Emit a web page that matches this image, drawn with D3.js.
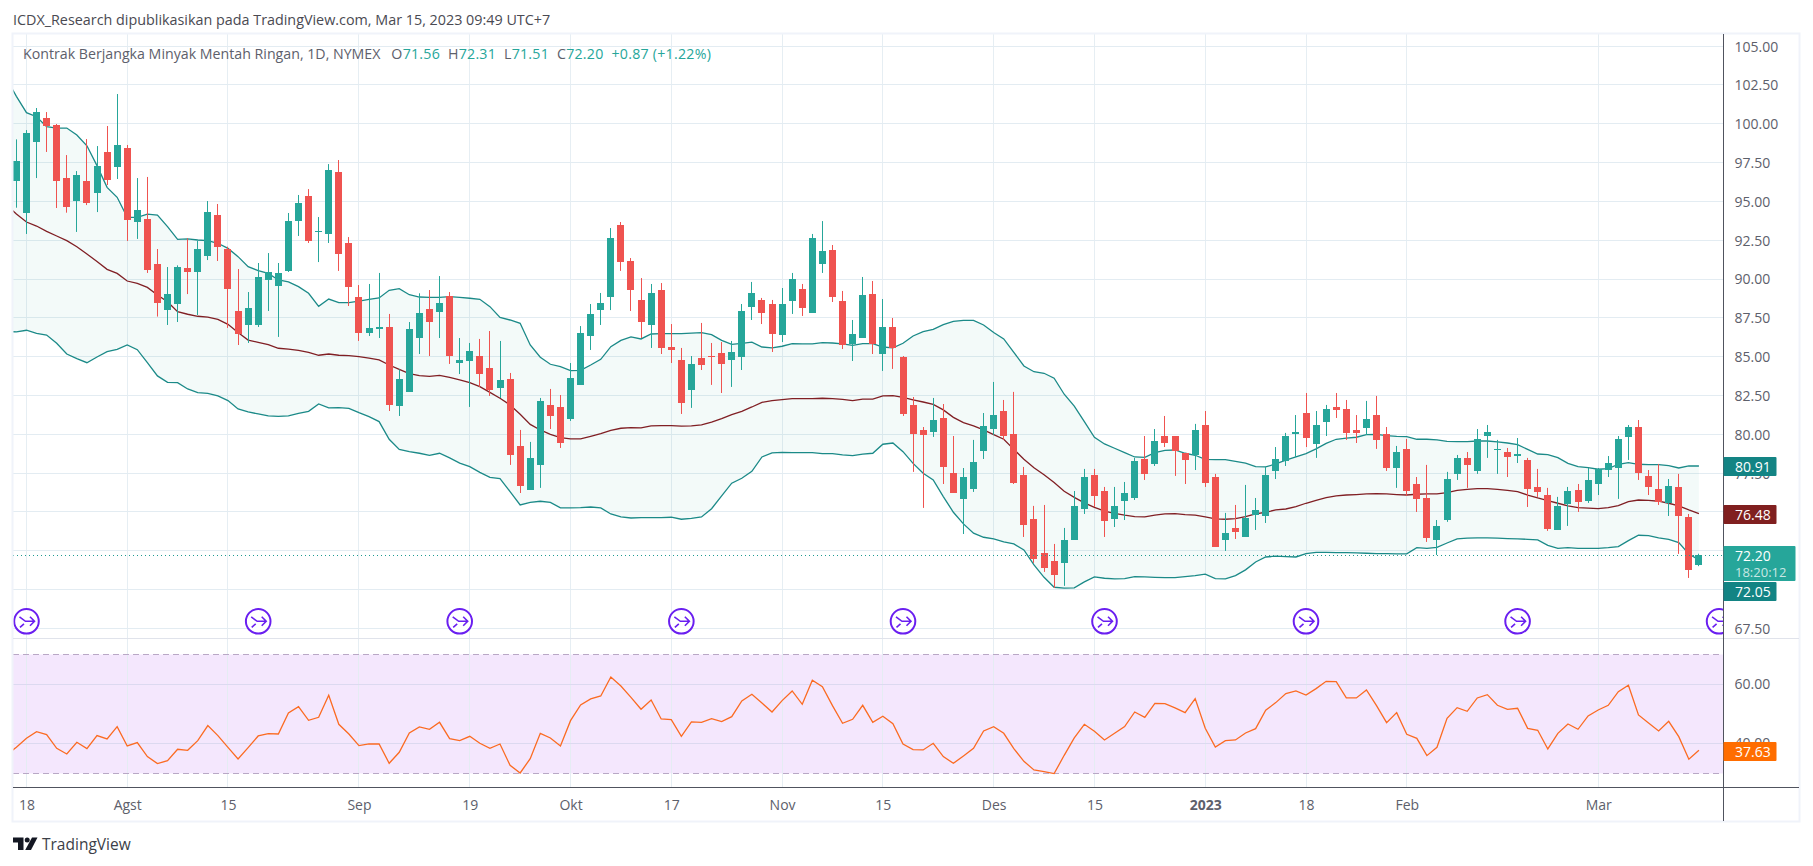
<!DOCTYPE html>
<html>
<head>
<meta charset="utf-8">
<script src="https://cdn.jsdelivr.net/npm/d3@7"></script>
<style>
	html, body { margin: 0; padding: 0; background: #fff; }
	svg { display: block; }
	text { font-family: "Open Sans", "Noto Sans", sans-serif; }
</style>
</head>
<body>
<div id="chart"></div>
<script>
// candles, one per trading day (first bar is Jul 15 2022)
const opens = [96.31,94.27,98.82,100.36,99.91,96.50,95.02,96.31,95.54,98.18,
	97.21,98.43,93.67,93.86,90.97,88.00,88.39,90.71,90.45,91.48,
	94.12,91.93,87.94,87.04,87.04,89.94,89.55,90.52,93.73,95.34,
	93.05,92.90,96.89,92.32,88.84,86.52,86.78,86.91,81.82,82.73,
	86.20,88.07,87.88,88.91,84.59,84.72,85.04,84.27,82.98,83.56,
	79.25,76.42,78.03,81.89,81.76,80.99,83.18,86.33,88.00,88.84,
	93.48,91.16,88.65,87.04,89.29,85.62,84.79,82.85,84.91,85.04,
	85.24,84.79,84.98,88.20,88.65,88.39,86.39,88.58,89.36,87.81,
	90.97,91.87,88.58,85.82,86.20,89.03,85.17,86.91,84.98,81.89,
	80.28,80.15,81.05,77.51,75.84,76.48,78.93,80.34,81.50,80.02,
	77.38,74.55,72.36,71.85,71.72,73.20,75.19,77.38,76.35,74.55,
	75.71,75.90,78.41,78.09,79.89,79.89,78.80,78.67,80.60,77.25,
	73.20,73.97,73.39,74.81,74.74,77.64,78.28,80.02,81.37,79.38,
	80.79,81.76,81.63,80.28,80.41,81.24,80.02,77.83,79.06,76.80,
	75.90,73.20,74.48,77.45,78.48,77.64,79.89,79.01,78.86,78.60,
	78.35,76.61,76.09,73.84,75.52,76.42,75.71,76.80,77.70,77.83,
	79.83,80.47,77.32,76.48,75.58,76.61,74.68,71.56];

const closes = [97.60,99.40,100.75,99.85,96.31,94.63,96.70,94.89,97.27,96.37,
	98.63,93.80,94.44,90.58,88.48,89.03,90.77,90.45,91.93,94.31,
	92.06,89.36,86.46,88.13,90.13,90.45,90.39,93.73,94.89,92.45,
	93.09,97.02,91.61,89.49,86.52,86.85,86.91,81.89,83.56,86.78,
	87.81,87.23,88.45,85.04,84.79,85.36,83.88,82.85,83.50,78.67,
	76.67,78.48,82.15,81.18,79.44,83.63,86.52,87.75,88.45,92.64,
	91.09,89.29,87.23,89.10,85.56,85.43,82.02,84.53,84.46,84.98,
	84.53,85.30,87.94,89.10,87.81,86.46,88.39,90.00,88.13,92.64,
	91.80,88.84,85.75,86.46,88.97,85.82,86.91,85.56,81.31,80.02,
	79.96,80.92,77.90,76.22,77.25,78.22,80.54,81.24,79.89,76.87,
	74.16,71.97,71.39,70.94,73.20,75.39,77.25,76.03,74.42,75.39,
	76.22,78.28,77.45,79.57,79.44,78.93,78.35,80.28,76.87,72.75,
	73.65,73.71,74.61,75.13,77.38,78.41,79.89,80.15,79.76,80.60,
	81.63,81.57,80.09,80.09,80.99,79.64,77.83,78.86,76.35,75.84,
	73.33,74.10,77.12,78.48,78.03,79.70,80.15,79.06,78.54,78.73,
	76.48,76.29,73.91,75.39,76.35,75.64,77.06,77.77,78.15,79.70,
	80.47,77.51,76.61,75.64,76.67,74.74,71.27,72.20];

const highs = [98.99,99.59,101.01,100.75,99.98,97.98,96.95,99.01,98.56,99.85,
	101.91,98.63,96.50,96.57,91.93,90.77,90.88,92.62,92.45,95.02,
	94.83,92.08,90.64,89.16,91.03,91.67,91.03,94.25,95.41,95.79,
	93.99,97.40,97.66,92.70,89.61,89.68,90.39,87.75,84.18,87.23,
	89.08,89.29,90.19,89.16,86.20,85.88,86.14,86.65,86.01,83.95,
	80.28,79.51,82.34,82.92,82.53,84.59,86.97,88.39,89.10,93.28,
	93.67,91.35,90.06,89.68,89.74,87.10,85.56,85.04,87.17,85.88,
	85.94,86.01,88.39,89.81,88.78,88.65,89.42,90.39,89.68,92.90,
	93.73,92.19,89.23,87.36,90.13,89.87,88.71,87.49,85.04,82.40,
	80.47,82.34,81.95,79.89,77.83,79.64,81.37,83.37,82.21,82.73,
	77.90,75.39,75.45,72.94,73.97,76.35,77.77,77.77,76.61,76.61,
	76.93,78.48,79.89,80.34,81.18,79.89,78.80,80.67,81.50,77.45,
	74.94,75.45,76.74,75.90,77.90,79.18,80.09,81.24,82.66,81.50,
	81.89,82.66,82.21,81.24,82.15,82.47,80.47,79.25,79.70,77.25,
	78.03,74.48,77.58,78.67,78.86,80.34,80.60,79.64,79.12,79.76,
	78.48,77.77,76.55,75.97,76.61,76.80,77.83,77.83,78.60,79.89,
	80.60,80.92,77.70,78.09,77.12,77.45,74.87,72.31];

const lows = [94.59,92.90,96.50,98.18,94.57,94.27,93.03,94.76,94.31,96.05,
	96.44,92.45,92.58,90.39,87.58,87.04,87.23,89.03,87.68,91.22,
	91.16,86.85,85.75,85.88,86.91,87.94,86.27,90.45,92.77,92.32,
	91.09,92.32,90.52,88.26,86.01,86.33,86.20,81.50,81.18,82.73,
	85.17,85.04,86.20,84.53,83.88,81.76,83.05,82.47,82.34,78.03,
	76.22,76.42,76.55,80.34,79.12,80.86,83.18,85.43,87.04,88.00,
	90.52,87.94,86.20,85.56,85.17,84.59,81.31,81.70,84.14,83.18,
	82.66,83.05,84.14,87.36,87.10,85.30,85.94,87.75,87.62,87.81,
	90.39,88.52,85.49,84.72,86.20,85.17,84.08,84.21,81.18,77.58,
	75.26,79.83,76.80,76.22,73.58,76.29,78.41,79.96,79.64,76.80,
	73.39,71.72,71.14,70.11,70.24,73.20,74.87,75.32,73.39,74.03,
	74.48,75.77,77.06,77.96,79.18,77.32,76.80,77.70,76.61,72.75,
	72.49,73.26,73.39,73.84,74.29,77.12,77.96,78.54,79.18,78.48,
	79.89,81.05,79.64,79.44,79.96,79.06,77.64,76.55,76.03,75.00,
	73.07,72.23,74.36,77.06,76.55,77.45,78.48,77.45,77.25,78.15,
	75.32,75.97,73.78,73.84,74.10,75.00,75.58,76.09,77.25,75.84,
	78.35,77.06,76.09,75.45,74.74,72.30,70.75,71.51];

// bollinger bands and rsi start one bar earlier, that bar is off the left edge
const bandUpper = [102.92,101.76,100.71,100.45,99.81,99.72,99.72,99.27,98.58,97.30,95.90,
	95.26,93.97,93.97,94.18,94.12,93.37,92.55,92.58,92.51,92.47,
	92.30,91.97,91.44,90.79,90.54,90.36,89.94,89.81,89.51,89.08,
	88.24,88.71,88.48,88.48,88.58,88.69,88.78,89.27,89.38,88.99,
	88.84,88.82,88.82,88.86,88.82,88.76,88.69,88.22,87.53,87.36,
	87.15,85.75,84.96,84.51,84.36,84.10,84.12,84.46,84.83,85.64,
	86.05,86.27,86.14,86.46,86.48,86.48,86.48,86.52,86.55,86.42,
	86.05,85.79,85.86,85.94,85.62,85.56,85.67,85.84,85.82,85.82,
	85.90,85.88,85.82,85.73,85.84,85.84,85.62,85.56,85.86,86.33,
	86.61,86.76,87.06,87.27,87.34,87.34,87.04,86.55,86.14,85.28,
	84.40,84.03,83.93,83.61,82.58,81.82,80.82,79.81,79.38,79.10,
	78.82,78.54,78.52,78.82,78.97,78.99,78.78,78.65,78.39,78.37,
	78.37,78.26,78.15,77.92,77.90,78.09,78.33,78.54,78.76,79.06,
	79.42,79.68,79.76,79.81,79.98,80.00,79.91,79.87,79.85,79.68,
	79.68,79.64,79.55,79.53,79.53,79.57,79.57,79.51,79.44,79.33,
	79.03,78.73,78.69,78.50,78.13,77.92,77.85,77.75,77.79,78.07,
	78.18,78.07,78.05,78.05,77.98,77.83,77.96,77.96];

const bandMiddle = [94.79,94.18,93.67,93.41,93.07,92.77,92.47,92.08,91.61,91.12,90.62,
	90.36,89.87,89.72,89.46,88.97,88.54,87.90,87.73,87.60,87.55,
	87.40,87.08,86.55,86.07,85.92,85.77,85.54,85.49,85.41,85.28,
	85.09,85.17,85.09,85.06,85.00,84.91,84.79,84.46,84.18,83.91,
	83.78,83.73,83.80,83.67,83.50,83.33,83.07,82.70,82.32,81.89,
	81.29,80.64,80.28,80.00,79.79,79.70,79.70,79.87,80.04,80.26,
	80.39,80.43,80.41,80.54,80.56,80.56,80.52,80.54,80.60,80.79,
	81.01,81.27,81.48,81.76,82.06,82.17,82.23,82.30,82.30,82.30,
	82.32,82.30,82.25,82.17,82.27,82.27,82.47,82.49,82.38,82.21,
	82.08,81.93,81.57,81.09,80.75,80.54,80.28,79.98,79.68,79.03,
	78.39,77.85,77.40,76.89,76.33,75.94,75.58,75.30,75.06,74.91,
	74.79,74.70,74.68,74.79,74.87,74.89,74.83,74.79,74.68,74.55,
	74.53,74.57,74.70,74.87,74.98,75.13,75.19,75.34,75.56,75.75,
	75.92,76.03,76.09,76.12,76.16,76.18,76.16,76.12,76.09,76.14,
	76.16,76.16,76.24,76.39,76.46,76.50,76.50,76.46,76.39,76.31,
	76.09,75.90,75.73,75.56,75.39,75.28,75.24,75.21,75.28,75.41,
	75.67,75.77,75.75,75.69,75.56,75.39,75.13,74.89];

const bandLower = [86.63,86.59,86.70,86.50,86.39,85.86,85.17,84.87,84.61,84.98,85.32,
	85.47,85.75,85.45,84.61,83.76,83.35,83.33,82.92,82.68,82.64,
	82.47,82.17,81.63,81.44,81.31,81.18,81.16,81.18,81.35,81.48,
	81.95,81.70,81.72,81.67,81.39,81.14,80.82,79.68,79.03,78.88,
	78.78,78.65,78.78,78.48,78.15,77.92,77.55,77.23,77.15,76.31,
	75.45,75.62,75.69,75.62,75.26,75.26,75.28,75.32,75.26,74.87,
	74.68,74.61,74.64,74.64,74.64,74.66,74.53,74.59,74.68,75.21,
	76.03,76.85,77.17,77.62,78.54,78.80,78.84,78.82,78.82,78.82,
	78.76,78.76,78.67,78.63,78.73,78.78,79.36,79.44,78.88,78.13,
	77.49,77.06,75.99,74.98,74.23,73.63,73.37,73.26,73.07,72.94,
	72.55,71.59,70.79,70.15,70.09,70.11,70.50,70.82,70.73,70.69,
	70.71,70.84,70.82,70.79,70.77,70.77,70.84,70.90,70.99,70.71,
	70.69,70.90,71.27,71.78,72.10,72.15,72.12,72.10,72.32,72.40,
	72.40,72.38,72.38,72.36,72.34,72.32,72.32,72.30,72.30,72.70,
	72.66,72.72,73.00,73.26,73.31,73.33,73.33,73.31,73.28,73.26,
	73.24,73.20,72.85,72.66,72.70,72.66,72.66,72.66,72.70,72.77,
	73.15,73.50,73.48,73.33,73.24,73.03,72.30,71.91];

const rsiValues = [36.05,38.64,41.69,43.95,42.94,38.31,36.38,40.34,38.19,42.60,41.47,
	45.65,39.10,40.23,35.48,33.11,34.12,37.97,37.63,40.90,45.99,
	42.60,38.64,34.69,38.53,42.49,43.28,43.16,50.28,52.43,47.80,
	48.81,56.27,46.44,43.16,39.21,39.77,39.77,33.22,36.95,43.50,
	45.54,44.75,47.12,41.58,40.90,42.37,40.00,38.31,39.77,32.54,
	29.94,34.80,43.39,41.81,39.10,47.68,52.99,55.03,56.05,62.49,
	59.44,55.59,51.53,54.69,48.25,48.02,42.37,47.23,47.12,48.36,
	47.34,49.04,54.35,56.61,53.67,50.62,54.46,57.74,53.22,61.36,
	59.21,52.77,46.78,48.14,52.88,47.12,49.15,46.67,39.77,37.85,
	37.74,40.00,35.48,33.22,35.71,38.31,44.18,45.65,43.39,38.19,
	33.90,30.96,30.40,29.72,35.93,41.81,46.44,44.07,41.13,43.39,
	45.65,50.62,48.81,53.56,53.45,51.98,50.40,55.14,45.08,38.76,
	40.90,41.13,43.50,44.97,51.19,53.79,56.84,57.74,56.38,58.53,
	61.02,60.90,55.37,55.37,58.08,52.77,47.01,50.40,43.05,41.69,
	35.82,38.64,48.47,52.09,50.85,55.37,56.50,52.88,51.53,51.86,
	45.08,44.41,38.08,43.39,46.55,44.75,49.27,51.30,52.88,57.51,
	59.66,49.60,46.89,44.18,47.46,42.26,34.58,37.63];

// axis labels
const priceTicks = [105,102.5,100,97.5,95,92.5,90,87.5,85,82.5,80,77.5,75,72.5,70,67.5];
const rsiTicks = [60,40];
const rsiBounds = [70.2,29.9];
const timeBars = [1,11,21,34,45,55,65,76,86,97,107,118,128,138,157];
const timeLabels = ["18","Agst","15","Sep","19","Okt","17","Nov","15","Des","15","2023","18","Feb","Mar"];
const eventBars = [1,24,44,66,88,108,128,149,169];

const lastPrice = 72.20;
const titleText = "ICDX_Research dipublikasikan pada TradingView.com, Mar 15, 2023 09:49 UTC+7";
const gap = "\u00A0\u00A0";
const legendParts = [
	["Kontrak Berjangka Minyak Mentah Ringan, 1D, NYMEX", "#5d606b"],
	[gap + "O", "#5d606b"], ["71.56", "#26a69a"],
	[gap + "H", "#5d606b"], ["72.31", "#26a69a"],
	[gap + "L", "#5d606b"], ["71.51", "#26a69a"],
	[gap + "C", "#5d606b"], ["72.20", "#26a69a"],
	[gap + "+0.87 (+1.22%)", "#26a69a"]
];

const width = 1813, height = 866;
const frame = {left: 13, right: 1799, top: 34, bottom: 821};
const axisX = 1723.5, paneSplit = 638.5, timeAxisY = 787.5;

const x = d3.scaleLinear().domain([0, 167]).range([16.4, 16.4 + 167 * 10.075]);
const y = d3.scaleLinear().domain([80, 100]).range([434.3, 123.7]);
const yRsi = d3.scaleLinear().domain([60, 40]).range([684.3, 743.3]);

const svg = d3.select("#chart").append("svg")
	.attr("width", width)
	.attr("height", height)
	.attr("viewBox", [0, 0, width, height]);

const defs = svg.append("defs");
defs.append("clipPath").attr("id", "price-clip").append("rect")
	.attr("x", frame.left).attr("y", frame.top)
	.attr("width", axisX - frame.left).attr("height", paneSplit - frame.top);
defs.append("clipPath").attr("id", "rsi-clip").append("rect")
	.attr("x", frame.left).attr("y", paneSplit)
	.attr("width", axisX - frame.left).attr("height", timeAxisY - paneSplit);

const crisp = v => Math.floor(v) + 0.5;

svg.append("text")
	.attr("x", 13).attr("y", 25)
	.attr("font-size", 14.35).attr("fill", "#4a4a52")
	.text(titleText);

// rsi background sits under the grid
svg.append("rect")
	.attr("x", frame.left).attr("width", axisX - frame.left)
	.attr("y", crisp(yRsi(rsiBounds[0]))).attr("height", crisp(yRsi(rsiBounds[1])) - crisp(yRsi(rsiBounds[0])))
	.attr("fill", "#f4e7fd");

// grid
const gridColor = "#e3ecf2";
svg.append("g").selectAll("line")
	.data(timeBars)
	.join("line")
	.attr("x1", d => crisp(x(d))).attr("x2", d => crisp(x(d)))
	.attr("y1", frame.top).attr("y2", timeAxisY)
	.attr("stroke", gridColor)
	.attr("stroke-opacity", 0.9);

svg.append("g").selectAll("line")
	.data(priceTicks)
	.join("line")
	.attr("x1", frame.left).attr("x2", axisX)
	.attr("y1", d => crisp(y(d))).attr("y2", d => crisp(y(d)))
	.attr("stroke", gridColor);

svg.append("g").selectAll("line")
	.data(rsiTicks)
	.join("line")
	.attr("x1", frame.left).attr("x2", axisX)
	.attr("y1", d => crisp(yRsi(d))).attr("y2", d => crisp(yRsi(d)))
	.attr("stroke", "#dcd9f0");

svg.append("g").selectAll("line")
	.data(rsiBounds)
	.join("line")
	.attr("x1", frame.left).attr("x2", axisX)
	.attr("y1", d => crisp(yRsi(d))).attr("y2", d => crisp(yRsi(d)))
	.attr("stroke", "#b9a8c6")
	.attr("stroke-dasharray", "6,4");

// price pane
const pricePane = svg.append("g").attr("clip-path", "url(#price-clip)");
const bandX = (d, i) => x(i - 1);

pricePane.append("path")
	.attr("d", d3.area().x(bandX).y0((d, i) => y(bandLower[i])).y1(d => y(d))(bandUpper))
	.attr("fill", "#26a69a")
	.attr("fill-opacity", 0.055);

const bandLine = d3.line().x(bandX).y(d => y(d));
[[bandUpper, "#1b8a88"], [bandLower, "#1b8a88"], [bandMiddle, "#801f24"]].forEach(([values, color]) => {
	pricePane.append("path")
		.attr("d", bandLine(values))
		.attr("fill", "none")
		.attr("stroke", color)
		.attr("stroke-width", 1.3);
});

const candles = opens.map((o, i) => ({i, o, h: highs[i], l: lows[i], c: closes[i]}));
const candleColor = d => d.c >= d.o ? "#26a69a" : "#ef5350";

pricePane.append("g").selectAll("line")
	.data(candles)
	.join("line")
	.attr("x1", d => crisp(x(d.i))).attr("x2", d => crisp(x(d.i)))
	.attr("y1", d => y(d.h)).attr("y2", d => y(d.l))
	.attr("stroke", candleColor);

pricePane.append("g").selectAll("rect")
	.data(candles)
	.join("rect")
	.attr("x", d => Math.floor(x(d.i)) - 3)
	.attr("width", 7)
	.attr("y", d => Math.round(y(Math.max(d.o, d.c))))
	.attr("height", d => Math.max(1, Math.round(y(Math.min(d.o, d.c))) - Math.round(y(Math.max(d.o, d.c)))))
	.attr("fill", candleColor);

// last price dotted line
pricePane.append("line")
	.attr("x1", frame.left).attr("x2", axisX)
	.attr("y1", crisp(y(lastPrice))).attr("y2", crisp(y(lastPrice)))
	.attr("stroke", "#1f9b90")
	.attr("stroke-dasharray", "1,3");

// contract roll markers
const marker = pricePane.append("g").selectAll("g")
	.data(eventBars)
	.join("g")
	.attr("transform", d => `translate(${x(d)},621.3)`)
	.attr("fill", "none")
	.attr("stroke", "#6a1ff0");
marker.append("circle").attr("r", 12.3).attr("stroke-width", 2).attr("fill", "#fff");
marker.append("path").attr("stroke-width", 1.6)
	.attr("d", "M-7,-4.5L-1,0L8,0M3.5,-4.5L8,0L3.5,4.5M-6.5,6L-2.5,2.5");

// rsi line
svg.append("path")
	.attr("clip-path", "url(#rsi-clip)")
	.attr("d", d3.line().x(bandX).y(d => yRsi(d))(rsiValues))
	.attr("fill", "none")
	.attr("stroke", "#fb6b22")
	.attr("stroke-width", 1.3);

// frame, separators
svg.append("rect")
	.attr("x", frame.left - 0.5).attr("y", frame.top - 0.5)
	.attr("width", frame.right - frame.left + 1).attr("height", frame.bottom - frame.top + 1)
	.attr("fill", "none")
	.attr("stroke", "#f0f3fa")
	.attr("stroke-width", 2);
svg.append("line")
	.attr("x1", frame.left).attr("x2", frame.right)
	.attr("y1", paneSplit).attr("y2", paneSplit)
	.attr("stroke", "#e0e3eb");
svg.append("line")
	.attr("x1", frame.left).attr("x2", frame.right)
	.attr("y1", timeAxisY).attr("y2", timeAxisY)
	.attr("stroke", "#50535e");
svg.append("line")
	.attr("x1", axisX).attr("x2", axisX)
	.attr("y1", frame.top).attr("y2", frame.bottom)
	.attr("stroke", "#50535e");

// axes
function styleAxis(g) {
	g.select(".domain").remove();
	g.selectAll(".tick line").remove();
	g.selectAll("text")
		.attr("fill", "#5d606b")
		.style("font-size", "14px")
		.style("font-family", '"Open Sans", sans-serif');
}

svg.append("g")
	.attr("transform", `translate(${axisX + 5},0.5)`)
	.call(d3.axisRight(y).tickValues(priceTicks).tickFormat(d3.format(".2f")).tickSize(0).tickPadding(6))
	.call(styleAxis);

svg.append("g")
	.attr("transform", `translate(${axisX + 5},0)`)
	.call(d3.axisRight(yRsi).tickValues(rsiTicks).tickFormat(d3.format(".2f")).tickSize(0).tickPadding(6))
	.call(styleAxis);

svg.append("g")
	.attr("transform", `translate(0,${timeAxisY + 9.5})`)
	.call(d3.axisBottom(x).tickValues(timeBars).tickFormat((d, i) => timeLabels[i]).tickSize(0).tickPadding(3))
	.call(styleAxis)
	.selectAll("text")
	.style("font-weight", d => timeLabels[timeBars.indexOf(d)] === "2023" ? "700" : "400");

// value tags on the right axis
const tags = [
	{label: "80.91", top: 457, h: 19, w: 53, color: "#138484"},
	{label: "76.48", top: 505, h: 19, w: 53, color: "#801f1f"},
	{label: "72.20", top: 546, h: 35, w: 72, color: "#26a69a", sub: "18:20:12"},
	{label: "72.05", top: 582, h: 19, w: 53, color: "#138484"},
	{label: "37.63", top: 742, h: 19, w: 53, color: "#ff6d00"}
];
const tag = svg.append("g").selectAll("g")
	.data(tags)
	.join("g");
tag.append("rect")
	.attr("x", axisX).attr("y", d => d.top)
	.attr("width", d => d.w).attr("height", d => d.h)
	.attr("rx", 1)
	.attr("fill", d => d.color);
tag.append("text")
	.attr("x", axisX + 11.5).attr("y", d => d.top + 14.5)
	.attr("font-size", 14).attr("fill", "#fff")
	.text(d => d.label);
tag.filter(d => d.sub).append("text")
	.attr("x", axisX + 11.5).attr("y", d => d.top + 30.5)
	.attr("font-size", 13).attr("fill", "#fff").attr("fill-opacity", 0.75)
	.text(d => d.sub);

// legend line, the ohlc part runs a little wider than the name
const legend = svg.append("text")
	.attr("x", 23).attr("y", 59)
	.attr("font-size", 14.2);
legend.selectAll("tspan")
	.data(legendParts)
	.join("tspan")
	.attr("fill", d => d[1])
	.attr("dx", (d, i) => i === 1 ? 3 : 0)
	.style("letter-spacing", (d, i) => i === 0 ? "0" : "0.25px")
	.text(d => d[0]);

// logo
const logo = svg.append("g").attr("fill", "#131722");
logo.append("path").attr("d", "M13,837.5H23.5V850H18V842.5H13Z");
logo.append("circle").attr("cx", 27.2).attr("cy", 840).attr("r", 2.5);
logo.append("path").attr("d", "M32,837.5H37.5L31,850H25.2Z");
svg.append("text")
	.attr("x", 42).attr("y", 850)
	.attr("font-size", 15.5).attr("fill", "#3c3f48")
	.text("TradingView");
</script>
</body>
</html>
